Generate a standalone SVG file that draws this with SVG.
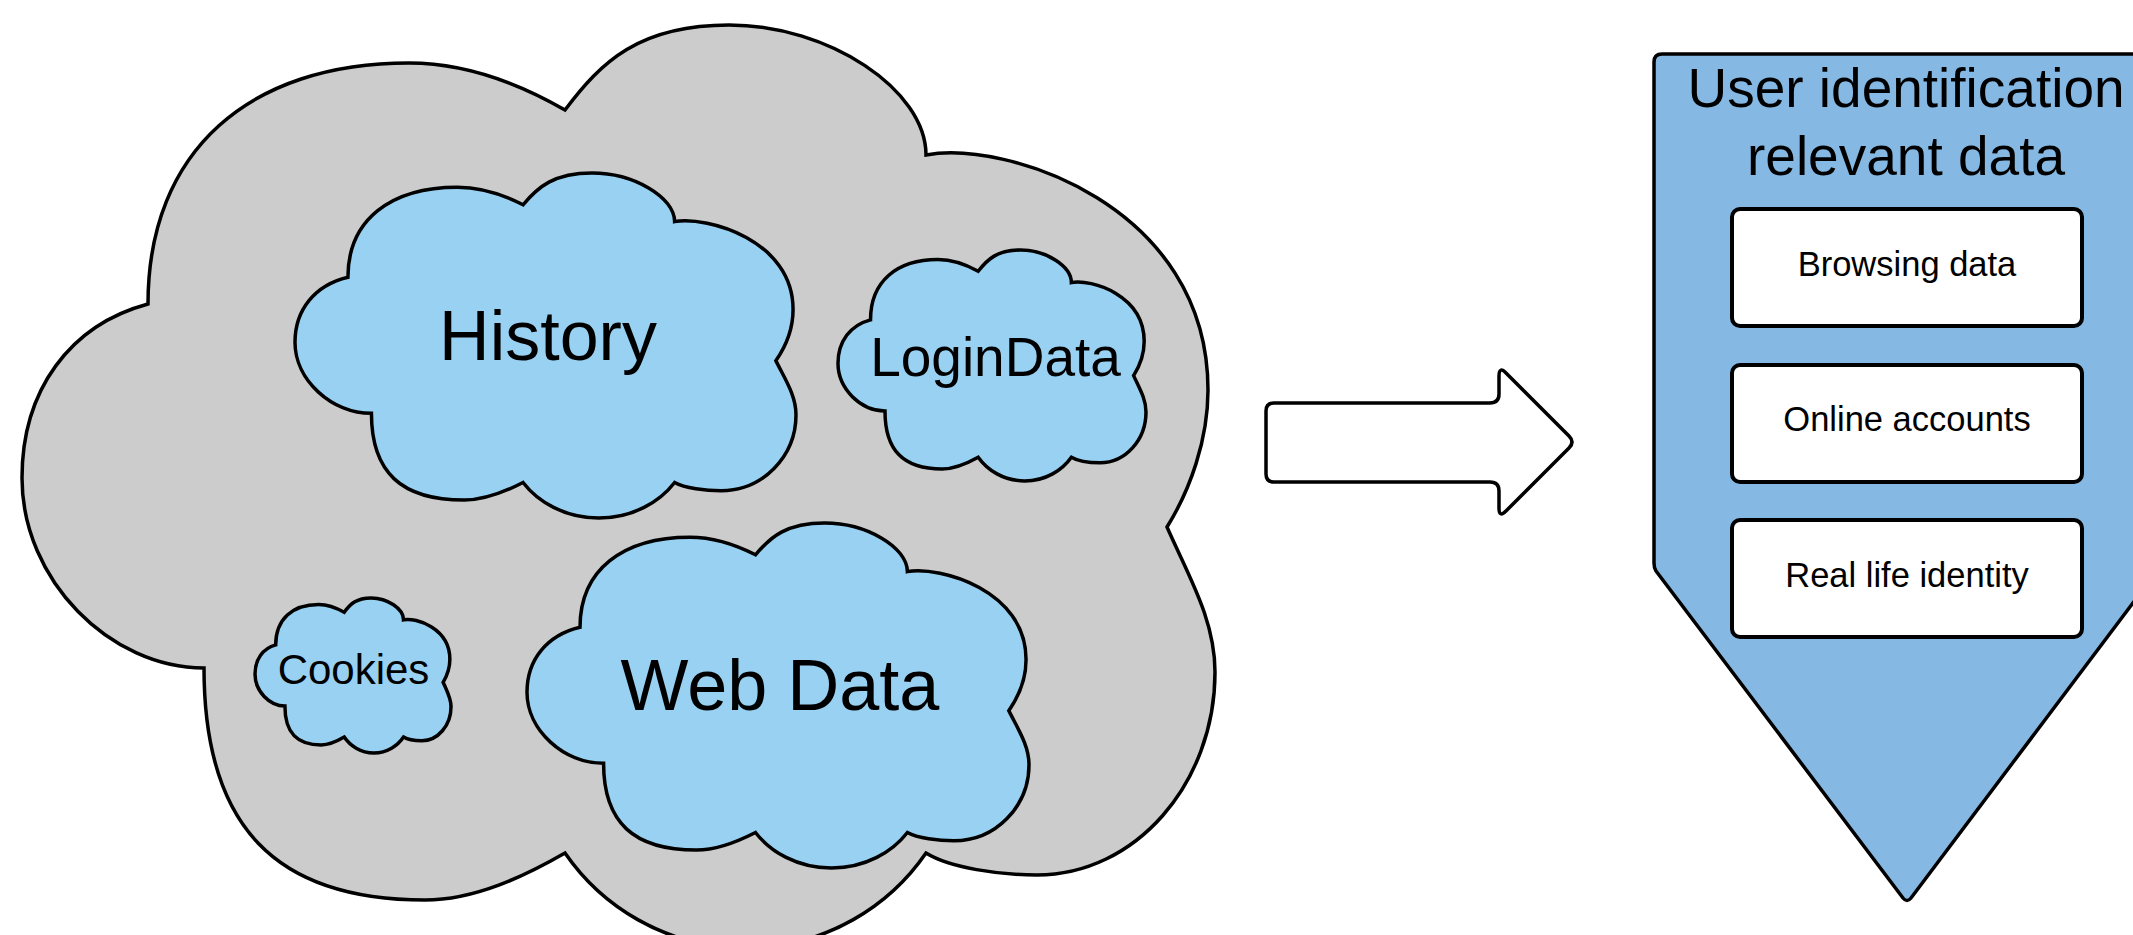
<svg xmlns="http://www.w3.org/2000/svg" xmlns:xlink="http://www.w3.org/1999/xlink" width="2133" height="935" viewBox="0 0 2133 935">
<style>
.cl{stroke:#000;stroke-width:3.5;stroke-linejoin:miter}
.gray{fill:#cccccc}
.blue{fill:#99d1f3}
.t{font-family:"Liberation Sans",Arial,sans-serif;fill:#000;text-anchor:middle}
.box{fill:#fff;stroke:#000;stroke-width:4}
</style>
<defs>
<path id="cloud" vector-effect="non-scaling-stroke" d="M148,304 C148,150 250,63 409,63 C469,63 525,87 565,110 C601,62 639,25 729,25 C829,25 926,90 926,155 C1005,140 1208,205 1208,390 C1208,440 1190,490 1167,527 C1189,577 1215,620 1215,672 C1215,784 1135,875 1037,875 C1000,875 950,868 926,853 A219,219 0 0 1 565,853 C525,876 475,900 425,900 C275,900 204,826 204,668 C110,668 22,580 22,478 C22,390 70,325 148,304 Z"/>
</defs>
<rect width="2133" height="935" fill="#fff"/>
<g id="storage">
<use xlink:href="#cloud" href="#cloud" class="cl gray"/>
</g>
<g id="history">
<use xlink:href="#cloud" href="#cloud" class="cl blue" transform="translate(285.76,163.66) scale(0.41995,0.37378)"/>
<text class="t" x="548" y="360" font-size="70">History</text>
</g>
<g id="logindata">
<use xlink:href="#cloud" href="#cloud" class="cl blue" transform="translate(832.32,243.74) scale(0.25817,0.25027)"/>
<text class="t" x="995.5" y="376" font-size="55">LoginData</text>
</g>
<g id="cookies">
<use xlink:href="#cloud" href="#cloud" class="cl blue" transform="translate(251.4,593.8) scale(0.16429,0.16793)"/>
<text class="t" x="353.5" y="684" font-size="42">Cookies</text>
</g>
<g id="webdata">
<use xlink:href="#cloud" href="#cloud" class="cl blue" transform="translate(517.74,513.66) scale(0.42079,0.37378)"/>
<text class="t" x="780" y="710" font-size="72">Web Data</text>
</g>
<g id="connectors">
<path d="M1274,403 L1490,403 Q1499,403 1499,394 L1499,376 Q1499,366 1506,373 L1569,436 Q1575,442 1569,448 L1506,511 Q1499,518 1499,508 L1499,491 Q1499,482 1490,482 L1274,482 Q1266,482 1266,474 L1266,411 Q1266,403 1274,403 Z" fill="#fff" stroke="#000" stroke-width="3.5" stroke-linejoin="round"/>
</g>
<g id="user-data">
<path d="M1662,54 L2152,54 Q2160,54 2160,62 L2160,567 L1911,898 Q1907,903 1903,898 L1656,571 Q1654,568 1654,563 L1654,62 Q1654,54 1662,54 Z" fill="#85b9e3" stroke="#000" stroke-width="3.5" stroke-linejoin="round"/>
<text class="t" x="1906" y="107" font-size="55">User identification</text>
<text class="t" x="1906" y="175" font-size="55">relevant data</text>
</g>
<g id="browsing">
<rect class="box" x="1732" y="209" width="350" height="117" rx="8"/>
<text class="t" x="1907" y="275.5" font-size="34.5">Browsing data</text>
</g>
<g id="accounts">
<rect class="box" x="1732" y="365" width="350" height="117" rx="8"/>
<text class="t" x="1907" y="431" font-size="34.5">Online accounts</text>
</g>
<g id="identity">
<rect class="box" x="1732" y="520" width="350" height="117" rx="8"/>
<text class="t" x="1907" y="586.5" font-size="34.5">Real life identity</text>
</g>
</svg>
